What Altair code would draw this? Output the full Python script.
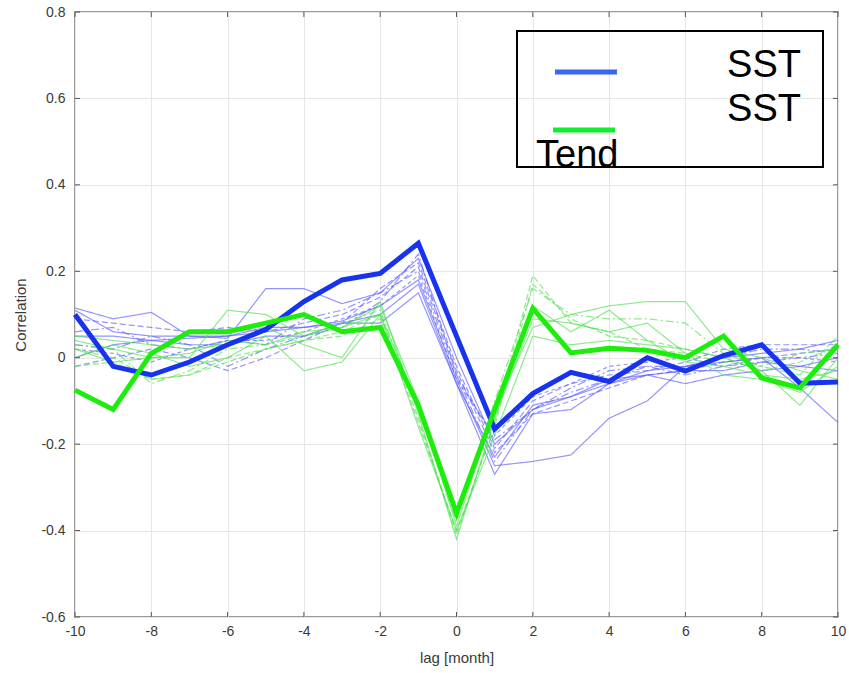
import altair as alt
import pandas as pd

# Lag axis (months)
lags = list(range(-10, 11))

# Ensemble-mean correlations
sst_mean = [0.10, -0.02, -0.04, -0.01, 0.03, 0.065, 0.13, 0.18, 0.195, 0.265, 0.05,
            -0.165, -0.083, -0.034, -0.055, 0.0, -0.031, 0.005, 0.03, -0.059, -0.056]
tend_mean = [-0.075, -0.12, 0.01, 0.06, 0.06, 0.08, 0.10, 0.06, 0.07, -0.11, -0.36,
             -0.12, 0.114, 0.011, 0.022, 0.017, 0.0, 0.05, -0.047, -0.07, 0.03]

# Individual members, SST
sst_r1 = [0.115, 0.09, 0.105, 0.05, 0.045, 0.16, 0.16, 0.125, 0.15, 0.23, 0.0,
          -0.20, -0.12, -0.09, -0.06, -0.03, -0.02, -0.01, 0.0, -0.07, -0.15]
sst_r2 = [0.09, 0.08, 0.07, 0.06, 0.07, 0.06, 0.08, 0.10, 0.14, 0.21, -0.03,
          -0.22, -0.13, -0.10, -0.07, -0.04, -0.03, -0.01, 0.0, 0.01, 0.02]
sst_r3 = [0.05, 0.05, 0.04, 0.045, 0.05, 0.07, 0.07, 0.085, 0.12, 0.18, -0.05,
          -0.25, -0.24, -0.225, -0.14, -0.10, -0.02, 0.0, 0.01, 0.02, 0.04]
sst_r4 = [0.03, 0.02, 0.05, 0.03, -0.02, 0.02, 0.05, 0.07, 0.13, 0.24, -0.04,
          -0.19, -0.12, -0.08, -0.05, -0.02, -0.04, -0.02, -0.01, 0.0, 0.01]
sst_r5 = [0.0, 0.03, 0.04, 0.03, 0.03, 0.05, 0.05, 0.08, 0.10, 0.17, -0.06,
          -0.27, -0.13, -0.12, -0.06, -0.04, -0.06, -0.04, -0.03, -0.02, 0.0]
sst_r6 = [-0.02, 0.0, 0.02, 0.0, -0.03, 0.0, 0.04, 0.08, 0.16, 0.22, -0.02,
          -0.21, -0.10, -0.06, -0.04, -0.03, -0.01, 0.02, 0.03, 0.03, 0.03]
sst_r7 = [0.11, 0.06, 0.05, 0.05, 0.05, 0.06, 0.07, 0.08, 0.08, 0.15, -0.06,
          -0.23, -0.11, -0.09, -0.05, -0.04, -0.03, -0.03, -0.01, -0.02, -0.03]
sst_r8 = [0.06, 0.07, 0.03, 0.02, 0.04, 0.03, 0.09, 0.11, 0.15, 0.20, -0.04,
          -0.24, -0.12, -0.07, -0.03, -0.02, -0.02, 0.0, 0.02, 0.02, 0.01]
sst_r9 = [0.02, 0.01, -0.01, 0.02, 0.04, 0.04, 0.06, 0.09, 0.12, 0.19, -0.05,
          -0.18, -0.09, -0.06, -0.02, -0.01, 0.0, -0.02, 0.0, 0.0, -0.01]

# Individual members, SST tendency
tend_r1 = [0.04, 0.02, 0.0, 0.0, 0.11, 0.10, 0.05, 0.07, 0.12, -0.10, -0.39,
           -0.12, 0.07, 0.10, 0.12, 0.13, 0.13, 0.02, 0.0, -0.03, -0.05]
tend_r2 = [0.02, 0.0, -0.05, -0.04, 0.0, 0.02, 0.04, 0.06, 0.10, -0.14, -0.41,
           -0.15, 0.19, 0.08, 0.06, 0.02, 0.01, -0.01, -0.02, 0.01, 0.02]
tend_r3 = [0.0, 0.03, 0.01, -0.02, 0.0, 0.05, -0.03, -0.01, 0.10, -0.16, -0.40,
           -0.18, 0.05, 0.03, 0.04, 0.03, 0.02, 0.0, -0.03, -0.11, 0.0]
tend_r4 = [0.03, 0.02, -0.06, -0.03, 0.02, 0.03, 0.05, 0.08, 0.11, -0.12, -0.38,
           -0.10, 0.16, 0.10, 0.09, 0.09, 0.08, 0.01, -0.02, -0.04, 0.05]
tend_r5 = [0.05, 0.04, 0.03, 0.02, 0.03, 0.07, 0.03, 0.0, 0.13, -0.13, -0.42,
           -0.14, 0.09, 0.08, 0.06, 0.08, 0.01, -0.04, -0.05, -0.08, -0.02]
tend_r6 = [-0.02, -0.01, -0.05, -0.04, -0.01, 0.02, 0.04, 0.05, 0.09, -0.15, -0.40,
           -0.16, 0.17, 0.09, 0.05, 0.04, 0.02, 0.0, -0.03, -0.01, 0.03]
tend_r7 = [0.02, -0.01, 0.0, 0.01, 0.04, 0.03, 0.06, 0.07, 0.10, -0.11, -0.37,
           -0.11, 0.12, 0.06, 0.11, 0.04, -0.01, -0.02, -0.04, -0.05, -0.03]

x_ticks = list(range(-10, 11, 2))
y_ticks = [-0.6, -0.4, -0.2, 0.0, 0.2, 0.4, 0.6, 0.8]

W, H = 763, 605
FONT = "Liberation Sans"


def long_table(members):
    rows = []
    for name, vals in members.items():
        for lag, v in zip(lags, vals):
            rows.append({"member": name, "lag": lag, "corr": v})
    return pd.DataFrame(rows)


sst_df = long_table({"r1": sst_r1, "r2": sst_r2, "r3": sst_r3, "r4": sst_r4,
                     "r5": sst_r5, "r6": sst_r6, "r7": sst_r7, "r8": sst_r8,
                     "r9": sst_r9})
tend_df = long_table({"r1": tend_r1, "r2": tend_r2, "r3": tend_r3, "r4": tend_r4,
                      "r5": tend_r5, "r6": tend_r6, "r7": tend_r7})
mean_sst_df = pd.DataFrame({"lag": lags, "corr": sst_mean})
mean_tend_df = pd.DataFrame({"lag": lags, "corr": tend_mean})

x_scale = alt.Scale(domain=[-10, 10], nice=False, zero=False)
y_scale = alt.Scale(domain=[-0.6, 0.8], nice=False, zero=False)

dash_domain = ["r1", "r2", "r3", "r4", "r5", "r6", "r7", "r8", "r9"]
dash_range = [[1, 0], [6, 3], [1, 0], [8, 3, 2, 3], [1, 0], [6, 3], [1, 0],
              [8, 3, 2, 3], [4, 3]]
dash_scale = alt.Scale(domain=dash_domain, range=dash_range)

num_label = "(datum.value < 0 ? '-' : '') + format(abs(datum.value), '{}')"

x_axis = alt.Axis(values=x_ticks, grid=True, gridColor="#e6e6e6", ticks=False,
                  domain=False, labelPadding=7, labelFont=FONT, labelFontSize=14,
                  labelColor="#3a3a3a", labelExpr=num_label.format("d"),
                  labelFlush=False, labelOverlap=False,
                  title="lag [month]", titleFont=FONT, titleFontSize=15,
                  titleFontWeight="normal", titleColor="#3a3a3a", titlePadding=12)
y_axis = alt.Axis(values=y_ticks, grid=True, gridColor="#e6e6e6", ticks=False,
                  domain=False, labelPadding=10, labelFont=FONT, labelFontSize=14,
                  labelColor="#3a3a3a", labelFlush=False, labelOverlap=False,
                  labelExpr="datum.value == 0 ? '0' : " + num_label.format(".1f"),
                  title="Correlation", titleFont=FONT, titleFontSize=15,
                  titleFontWeight="normal", titleColor="#3a3a3a", titlePadding=12)


def X(field):
    return alt.X(field, scale=x_scale, axis=x_axis)


def Y(field):
    return alt.Y(field, scale=y_scale, axis=y_axis)


thin_sst = alt.Chart(sst_df).mark_line(strokeWidth=1.2, color="#5a5aff", opacity=0.65).encode(
    x=X("lag:Q"), y=Y("corr:Q"),
    detail="member:N",
    strokeDash=alt.StrokeDash("member:N", scale=dash_scale, legend=None),
)
thin_tend = alt.Chart(tend_df).mark_line(strokeWidth=1.2, color="#4ee04e", opacity=0.65).encode(
    x=X("lag:Q"), y=Y("corr:Q"),
    detail="member:N",
    strokeDash=alt.StrokeDash("member:N", scale=dash_scale, legend=None),
)
thick_sst = alt.Chart(mean_sst_df).mark_line(strokeWidth=5, color="#1733ee").encode(
    x=X("lag:Q"), y=Y("corr:Q"),
)
thick_tend = alt.Chart(mean_tend_df).mark_line(strokeWidth=5, color="#1ded0c").encode(
    x=X("lag:Q"), y=Y("corr:Q"),
)

# Inward tick marks on all four sides of the box
xt = pd.DataFrame({"lag": x_ticks})
yt = pd.DataFrame({"corr": y_ticks})
tick_style = dict(color="#555555", strokeWidth=1)
ticks_bottom = alt.Chart(xt).mark_rule(**tick_style).encode(
    x=X("lag:Q"), y=alt.value(H), y2=alt.value(H - 5))
ticks_top = alt.Chart(xt).mark_rule(**tick_style).encode(
    x=X("lag:Q"), y=alt.value(0), y2=alt.value(5))
ticks_left = alt.Chart(yt).mark_rule(**tick_style).encode(
    y=Y("corr:Q"), x=alt.value(0), x2=alt.value(5))
ticks_right = alt.Chart(yt).mark_rule(**tick_style).encode(
    y=Y("corr:Q"), x=alt.value(W), x2=alt.value(W - 5))

# Legend box
one = pd.DataFrame({"k": [0]})
leg_box = alt.Chart(one).mark_rect(fill=None, stroke="black", strokeWidth=2).encode(
    x=alt.value(442), x2=alt.value(748), y=alt.value(19), y2=alt.value(155))
leg_blue = alt.Chart(one).mark_rule(color="#3a66f5", strokeWidth=5).encode(
    x=alt.value(480), x2=alt.value(542), y=alt.value(60))
leg_green = alt.Chart(one).mark_rule(color="#0df02a", strokeWidth=5).encode(
    x=alt.value(478), x2=alt.value(540), y=alt.value(118))
leg_text_style = dict(font=FONT, fontSize=38, color="black")
leg_t1 = alt.Chart(one).mark_text(align="right", baseline="alphabetic", **leg_text_style).encode(
    x=alt.value(726), y=alt.value(65), text=alt.value("SST"))
leg_t2 = alt.Chart(one).mark_text(align="right", baseline="alphabetic", **leg_text_style).encode(
    x=alt.value(726), y=alt.value(109), text=alt.value("SST"))
leg_t3 = alt.Chart(one).mark_text(align="left", baseline="alphabetic", **leg_text_style).encode(
    x=alt.value(461), y=alt.value(155), text=alt.value("Tend"))

chart = alt.layer(
    thin_sst, thin_tend, thick_sst, thick_tend,
    ticks_bottom, ticks_top, ticks_left, ticks_right,
    leg_box, leg_blue, leg_green, leg_t1, leg_t2, leg_t3,
).properties(
    width=W, height=H,
    autosize=alt.AutoSizeParams(type="none"),
    padding={"left": 75, "top": 12, "right": 11, "bottom": 56},
    background="white",
).configure_view(
    stroke="#7a7a7a", strokeWidth=1.5,
)

chart.save("out.html", embed_options={"renderer": "svg", "actions": False})
